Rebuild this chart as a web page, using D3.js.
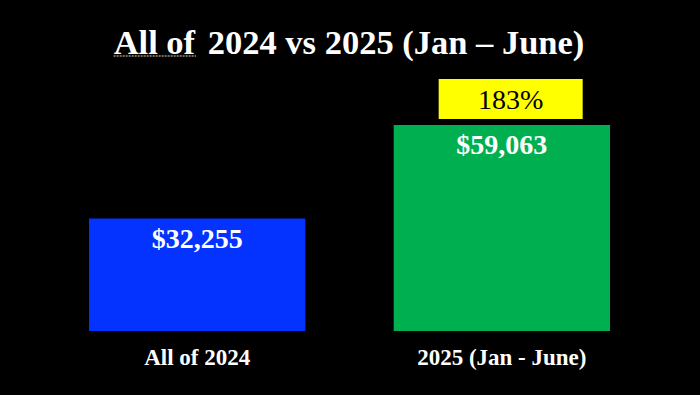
<!DOCTYPE html>
<meta charset="utf-8">
<script src="https://d3js.org/d3.v7.min.js"></script>
<style>
  body { margin: 0; background: #000; }
</style>
<div id="my_dataviz"></div>
<script>

// data
var categories = ["All of 2024", "2025 (Jan - June)"];
var values = [32255, 59063];
var barColors = ["#0433ff", "#00b050"];
var growthLabel = "183%";

var width = 700, height = 395;
var font = "'Liberation Serif', 'Times New Roman', serif";

var svg = d3.select("#my_dataviz")
  .append("svg")
    .attr("width", width)
    .attr("height", height)
    .style("display", "block")
    .style("background", "#000");

// scales
var x = d3.scaleBand()
  .domain(categories)
  .range([89, 610])
  .paddingInner(0.29)
  .paddingOuter(0);

var y = d3.scaleLinear()
  .domain([0, 59063])
  .range([331, 125]);

// title
var title = svg.append("text")
  .attr("x", 349)
  .attr("y", 54)
  .attr("text-anchor", "middle")
  .attr("font-family", font)
  .attr("font-weight", "bold")
  .attr("font-size", "34.5px")
  .attr("fill", "#fff");
title.append("tspan").attr("id", "t1").text("All of");
title.append("tspan").attr("dx", 4).text(" 2024 vs 2025 (Jan \u2013 June)");

// underline under "All of"
var t1 = document.getElementById("t1");
var ext = t1.getExtentOfChar(0), last = t1.getExtentOfChar(t1.getNumberOfChars() - 1);
svg.append("line")
  .attr("x1", ext.x)
  .attr("x2", last.x + last.width + 1)
  .attr("y1", 56)
  .attr("y2", 56)
  .attr("stroke", "#a08c70")
  .attr("stroke-width", 1.5)
  .attr("stroke-dasharray", "2,1");

// bars
svg.append("g")
  .selectAll("rect")
  .data(values)
  .enter()
  .append("rect")
    .attr("x", function(d, i) { return x(categories[i]); })
    .attr("y", function(d) { return y(d); })
    .attr("width", x.bandwidth())
    .attr("height", function(d) { return y(0) - y(d); })
    .attr("fill", function(d, i) { return barColors[i]; });

// value labels
svg.append("g")
  .selectAll("text")
  .data(values)
  .enter()
  .append("text")
    .attr("x", function(d, i) { return x(categories[i]) + x.bandwidth() / 2; })
    .attr("y", function(d) { return y(d) + 29; })
    .attr("text-anchor", "middle")
    .attr("font-family", font)
    .attr("font-weight", "bold")
    .attr("font-size", "28px")
    .attr("fill", "#fff")
    .text(function(d) { return "$" + d3.format(",")(d); });

// category labels
svg.append("g")
  .selectAll("text")
  .data(categories)
  .enter()
  .append("text")
    .attr("x", function(d) { return x(d) + x.bandwidth() / 2; })
    .attr("y", 365)
    .attr("text-anchor", "middle")
    .attr("font-family", font)
    .attr("font-weight", "bold")
    .attr("font-size", "23px")
    .attr("fill", "#fff")
    .text(function(d) { return d; });

// growth box above 2025 bar
var gx = x(categories[1]) + 45;
var gy = y(values[1]) - 46;
svg.append("rect")
  .attr("x", gx)
  .attr("y", gy)
  .attr("width", 144)
  .attr("height", 40)
  .attr("fill", "#ffff00");
svg.append("text")
  .attr("x", gx + 72)
  .attr("y", gy + 30)
  .attr("text-anchor", "middle")
  .attr("font-family", font)
  .attr("font-size", "28px")
  .attr("fill", "#000")
  .text(growthLabel);

</script>
